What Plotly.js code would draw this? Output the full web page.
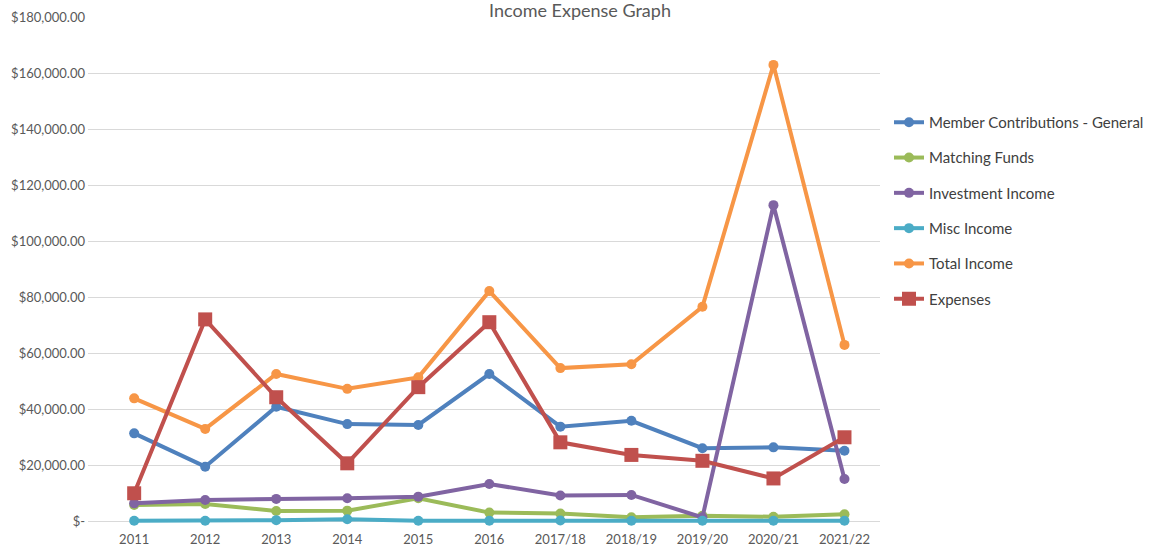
<!DOCTYPE html>
<html>
<head>
<meta charset="utf-8">
<script src="https://cdn.plot.ly/plotly-3.0.1.min.js"></script>
<style>html,body{margin:0;padding:0;background:#fff;}#chart{width:1154px;height:547px;}</style>
</head>
<body>
<div id="chart"></div>
<script>
var categories = ["2011","2012","2013","2014","2015","2016","2017/18","2018/19","2019/20","2020/21","2021/22"];
var memberContributions = [31300, 19400, 40800, 34600, 34300, 52500, 33700, 35800, 26000, 26300, 25100];
var matchingFunds = [5700, 6100, 3600, 3700, 8100, 3000, 2700, 1300, 1900, 1500, 2400];
var investmentIncome = [6300, 7500, 7900, 8100, 8700, 13200, 9100, 9300, 1300, 112800, 15000];
var miscIncome = [100, 100, 300, 600, 100, 100, 200, 100, 100, 100, 100];
var totalIncome = [43800, 32900, 52500, 47200, 51300, 82100, 54600, 56000, 76500, 162900, 62900];
var expenses = [9900, 72000, 44200, 20600, 47800, 71000, 28100, 23600, 21500, 15200, 29900];
var seriesNames = ["Member Contributions - General", "Matching Funds", "Investment Income", "Misc Income", "Total Income", "Expenses"];
var yTickVals = [0, 20000, 40000, 60000, 80000, 100000, 120000, 140000, 160000, 180000];
var yTickText = ["$-", "$20,000.00", "$40,000.00", "$60,000.00", "$80,000.00", "$100,000.00", "$120,000.00", "$140,000.00", "$160,000.00", "$180,000.00"];

var colors = ["#4F81BD", "#9BBB59", "#8064A2", "#4BACC6", "#F79646", "#C0504D"];
var seriesData = [memberContributions, matchingFunds, investmentIncome, miscIncome, totalIncome, expenses];

var traces = seriesData.map(function (vals, i) {
  var isExp = i === 5;
  return {
    type: "scatter",
    mode: "lines+markers",
    x: categories,
    y: vals,
    name: seriesNames[i],
    legendgroup: "g" + i,
    cliponaxis: false,
    line: { color: colors[i], width: 4 },
    marker: { color: colors[i], size: isExp ? 14 : 10, symbol: isExp ? "square" : "circle" },
    hoverinfo: "x+y+name"
  };
});

var layout = {
  width: 1154,
  height: 547,
  paper_bgcolor: "#ffffff",
  plot_bgcolor: "#ffffff",
  font: { family: "Lato, 'Open Sans', sans-serif", color: "#595959", size: 13 },
  margin: { l: 88, r: 274, t: 17, b: 23, autoexpand: false },
  title: {
    text: "Income Expense Graph",
    font: { size: 18, color: "#595959", family: "Lato, 'Open Sans', sans-serif" },
    x: 580 / 1154,
    xref: "container",
    xanchor: "center",
    yref: "container",
    y: 1 - 11 / 547,
    yanchor: "middle"
  },
  xaxis: {
    type: "category",
    range: [-0.65, 10.5],
    showgrid: false,
    zeroline: false,
    showline: false,
    ticks: "",
    tickfont: { size: 13, color: "#595959" },
    ticklabelstandoff: 6,
    fixedrange: true
  },
  yaxis: {
    range: [-1070, 180000],
    tickvals: yTickVals,
    ticktext: yTickText,
    showgrid: true,
    gridcolor: "#D9D9D9",
    gridwidth: 1,
    zeroline: false,
    showline: false,
    ticks: "",
    tickfont: { size: 13, color: "#595959" },
    ticklabelstandoff: 2,
    fixedrange: true
  },
  showlegend: true,
  legend: {
    x: (889 - 88) / 792,
    xanchor: "left",
    y: (524 - 106) / 507,
    yanchor: "top",
    traceorder: "grouped",
    tracegroupgap: 12.8,
    font: { size: 15, color: "#404040" },
    bgcolor: "rgba(0,0,0,0)",
    itemwidth: 30
  },
  hovermode: "closest"
};

Plotly.newPlot("chart", traces, layout, { displayModeBar: false, staticPlot: false });
</script>
</body>
</html>
